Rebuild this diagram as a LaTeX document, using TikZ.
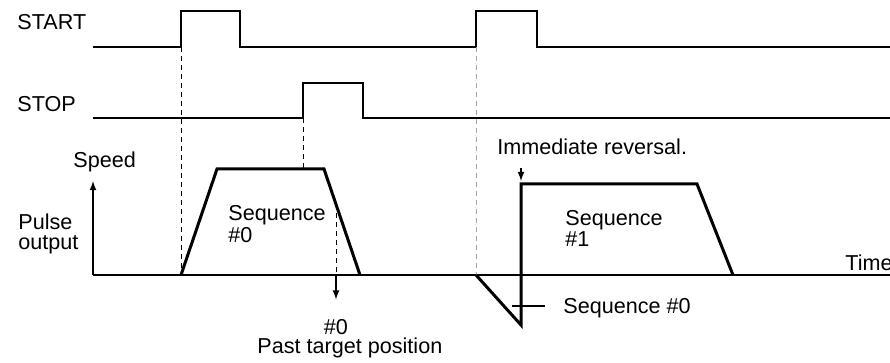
\documentclass[tikz,border=0pt]{standalone}
\usepackage{fontspec}
\setmainfont{Liberation Sans}
\usetikzlibrary{arrows.meta,positioning}

\begin{document}
\begin{tikzpicture}[x=0.5pt,y=-0.5pt,
    txt/.style={inner sep=0pt, font=\fontsize{10.8}{8}\selectfont},
    signal/.style={line width=1.1pt},
    profile/.style={line width=1.5pt, line join=miter},
    guide/.style={line width=0.4pt, dash pattern=on 2.5pt off 2pt},
    axis/.style={line width=0.6pt}]
        \useasboundingbox (0,0) rectangle (890,363);
        % Draw the START and STOP signals
        \draw[signal] (93,47) -- (181,47) -- (181,11) -- (240,11) -- (240,47)
              -- (476,47) -- (476,11) -- (537,11) -- (537,47) -- (890,47);
        \draw[signal] (93,118) -- (303,118) -- (303,83) -- (363,83) -- (363,118) -- (890,118);
        \node[txt,anchor=west] (start) at (17,22) {START};
        \node[txt,anchor=west] (stop) at (17,104) {STOP};
        %axis
        \coordinate (orig) at (93,275);
        \coordinate (axtop) at (93,181);
        \coordinate (axend) at (890,275);
        \draw[axis] (orig) -- (axend);
        \draw[axis,-latex] (orig) -- (axtop);
        \node[txt,anchor=base west] (speed) at (73,168) {Speed};
        \node[txt,anchor=north west,align=left,font=\fontsize{10.8}{10}\selectfont] (pulse) at (18,213) {Pulse\\output};
        \node[txt,anchor=west] (time) at (845,263) {Time};
        % guide lines
        \draw[guide] (181,47) -- (181,275);
        \draw[guide] (303,118) -- (303,169);
        \draw[guide] (336,204) -- (336,275);
        \draw[guide,gray!70] (476,47) -- (476,275);
        % Sequence #0
        \draw[profile] (181,275) -- (217,169) -- (324,169) -- (360,275);
        \node[txt,anchor=north west,align=left] (seqa) at (228,205) {Sequence\\\#0};
        \coordinate (tgt) at (336,275);
        \node[txt,anchor=base] (num) at (336,335) {\#0};
        \node[txt,anchor=base west] (past) at (257,354) {Past target position};
        \draw[axis,-latex] (tgt) -- ([yshift=10pt]num.north);
        % Sequence #1 with reversal
        \draw[profile] (476,275) -- (521,325) -- (521,184) -- (697,184) -- (733,275);
        \node[txt,anchor=north west,align=left] (seqb) at (565,210) {Sequence\\\#1};
        \node[txt,anchor=base west] (rev) at (497,155) {Immediate reversal.};
        \coordinate (revtip) at (521,181);
        \draw[axis,-latex] ([yshift=-6pt]rev.south -| revtip) -- (revtip);
        \node[txt,anchor=base west] (seqc) at (563,314) {Sequence \#0};
        \coordinate (tick) at (512,306);
        \coordinate (tickend) at ([xshift=-9pt]seqc.west);
        \draw[axis] (tick) -- (tick -| tickend);
\end{tikzpicture}
\end{document}
